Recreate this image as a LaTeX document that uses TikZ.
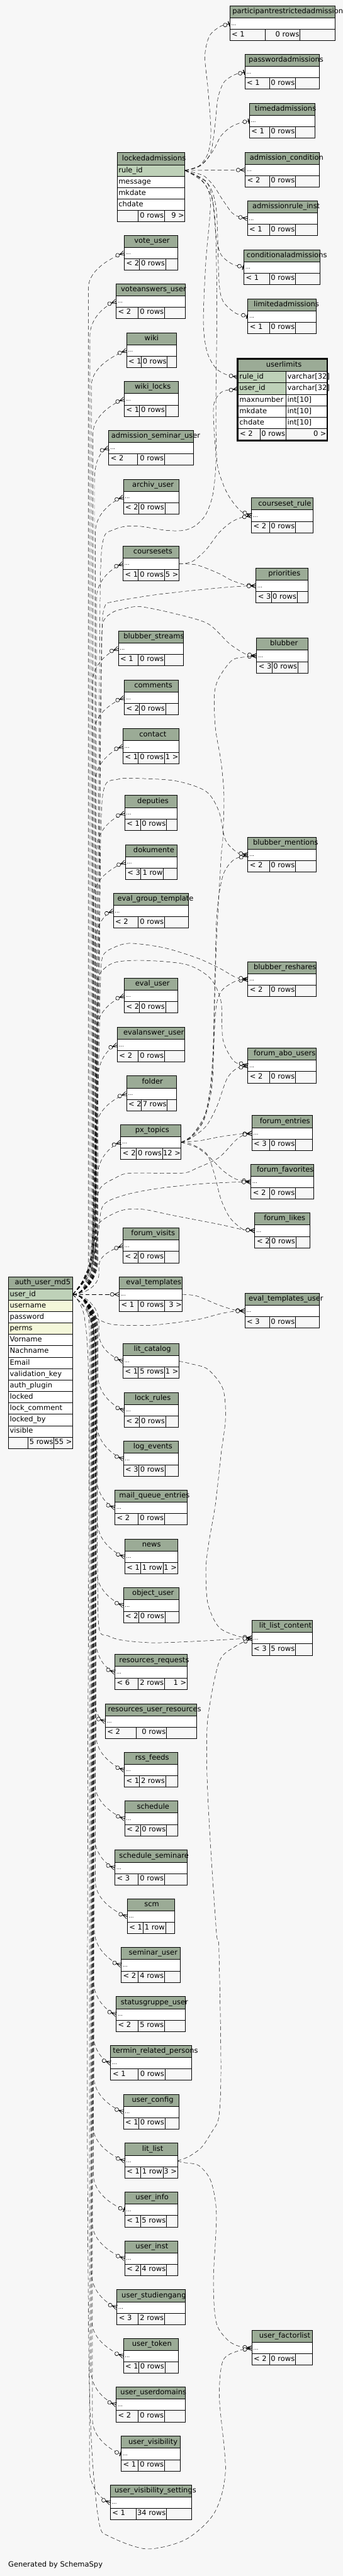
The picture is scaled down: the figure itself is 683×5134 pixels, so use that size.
\documentclass[tikz,border=0pt]{standalone}
\usepackage{fontspec}
\setmainfont{DejaVu Sans}
\usetikzlibrary{calc}
\definecolor{bgc}{HTML}{F7F7F7}
\definecolor{hdr}{HTML}{9BAB96}
\definecolor{keyc}{HTML}{BED1B8}
\definecolor{idxc}{HTML}{F4F7DA}
\tikzset{
 tline/.style={draw=black,line width=0.9pt},
 rowbox/.style={draw=black,line width=0.9pt,fill=white,inner sep=0pt,outer sep=0pt,minimum height=22.75pt},
 txt/.style={font=\fontsize{14.4}{17}\selectfont,inner sep=0pt,outer sep=0pt},
 dotsty/.style={font=\fontsize{10.5}{12}\selectfont,inner sep=0pt,outer sep=0pt},
 rel/.style={draw=black,line width=0.6pt,dash pattern=on 8pt off 5pt},
 crowm/.pic={\draw[solid,line width=0.9pt] (-10,0)--(0,0) (0,4.5)--(-10,0)--(0,-4.5); \draw[solid,line width=0.8pt,fill=bgc] (-14,0) circle[radius=3.8];},
 onem/.pic={\draw[solid,line width=0.8pt] (-5.5,0)--(0,0); \draw[solid,line width=1.8pt] (-1.5,-5)--(-1.5,5); \draw[solid,line width=0.8pt,fill=bgc] (-9.3,0) circle[radius=3.8];},
}
\def\tblgeo#1,#2,#3,#4,#5,#6\relax{\def\tL{#1}\def\tR{#2}\def\tT{#3}\def\tDa{#4}\def\tDb{#5}\def\tX{#6}}
\newcommand\tbl[6]{%
 \tblgeo#2\relax
 \pgfmathsetmacro\tW{\tR-\tL}%
 \path[tline,fill=hdr] (\tL,\tT) rectangle (\tR,\tT+24);
 \node[rowbox,minimum width=\tW pt,anchor=north west] (#1) at (\tL,\tT+24) {};
 \path[tline,fill=bgc] (\tL,\tT+46.75) rectangle (\tR,\tT+69.5);
 \draw[tline] (\tDa,\tT+46.75) -- (\tDa,\tT+69.5) (\tDb,\tT+46.75) -- (\tDb,\tT+69.5);
 \node[txt,anchor=base west] (#1-t) at (\tX,\tT+15.5) {#3};
 \node[dotsty,anchor=base west] (#1-d) at (\tL+3,\tT+38.5) {...};
 \node[txt,anchor=base west] (#1-c1) at (\tL+4,\tT+61.2) {#4};
 \node[txt,anchor=base east] (#1-c2) at (\tDb-1.5,\tT+61.2) {#5};
 \node[txt,anchor=base east] (#1-c3) at (\tR-1,\tT+61.2) {#6};
}
\newcommand\frow[6]{%
 \node[rowbox,fill=#5,minimum width=#3pt,anchor=north west] (#1) at (#2,#4) {};
 \node[txt,anchor=base west] (#1-t) at ({#2+3},{#4+15.2}) {#6};
}
% marker #1 at end point #3, oriented from point #2
\newcommand\mk[3]{%
 \path let \p1=#2, \p2=#3, \n1={atan2(\y2-\y1,\x2-\x1)} in (\p2) pic[rotate=\n1]{#1};
}
\newcommand\aul[4]{%
 \draw[rel] let \p1=(au-uid.east), \p2=(#1.west), \n1={min(70,0.42*abs(\y2-\y1))} in
 (\p1) .. controls ({\x1+22pt},{\y1}) and ({#2pt},{\y1-(#3)*0.4*\n1}) .. ({#2pt},{\y1-(#3)*\n1})
 -- ({#2pt},{\y2+(#3)*\n1}) .. controls ({#2pt},{\y2+(#3)*0.45*\n1}) and ({\x2-20pt},{\y2+(#3)*7pt}) .. (\p2);
 \path (#1.west) pic[rotate={-(#3)*19.29}]{#4};
}
\begin{document}
\begin{tikzpicture}[x=1pt,y=-1pt]
\fill[bgc] (0,0) rectangle (683,5134);
\useasboundingbox (0,0) rectangle (683,5134);
\clip (0,0) rectangle (683,5134);

% ---------- generic tables ----------
\tbl{pra}{457.4,667.3,11.7,528.4,597.6,463.0}{participantrestrictedadmissions}{< 1}{0 rows}{}
\tbl{pwa}{487.4,636.4,108.3,536.6,588.5,495.3}{passwordadmissions}{< 1}{0 rows}{}
\tbl{tia}{496.6,627.2,205.7,536.6,588.5,507.4}{timedadmissions}{< 1}{0 rows}{}
\tbl{adc}{488.3,635.5,303.3,536.6,588.5,497.4}{admission\_condition}{< 2}{0 rows}{}
\tbl{ari}{492.6,631.6,400.3,536.6,588.5,502.7}{admissionrule\_inst}{< 1}{0 rows}{}
\tbl{vu}{247.4,353.3,468.7,277.5,329.7,267.4}{vote\_user}{< 2}{0 rows}{}
\tbl{vau}{231.3,369.4,565.3,275.3,327.6,240.9}{voteanswers\_user}{< 2}{0 rows}{}
\tbl{wiki}{251.8,351.5,663.3,281.4,333.2,287.9}{wiki}{< 1}{0 rows}{}
\tbl{wl}{247.4,355.4,760.3,277.5,329.7,268.3}{wiki\_locks}{< 1}{0 rows}{}
\tbl{cda}{485.7,637.2,497.7,536.6,588.5,491.3}{conditionaladmissions}{< 1}{0 rows}{}
\tbl{lia}{493.5,629.4,595.3,536.6,588.5,505.3}{limitedadmissions}{< 1}{0 rows}{}
\tbl{asu}{216.5,385.5,857.3,273.5,327.6,221.7}{admission\_seminar\_user}{< 2}{0 rows}{}
\tbl{arc}{245.7,356.3,955.3,276.6,328.4,263.5}{archiv\_user}{< 2}{0 rows}{}
\tbl{csr}{500.5,623.3,992.3,536.6,588.5,514.4}{courseset\_rule}{< 2}{0 rows}{}
\tbl{cs}{244.8,356.3,1088.3,275.3,327.6,265.7}{coursesets}{< 1}{0 rows}{5 >}
\tbl{pri}{509.6,613.3,1132.3,540.1,591.9,534.4}{priorities}{< 3}{0 rows}{}
\tbl{bs}{235.6,365.0,1257.3,275.3,327.6,246.1}{blubber\_streams}{< 1}{0 rows}{}
\tbl{bl}{510.9,613.3,1271.7,541.4,593.3,537.9}{blubber}{< 3}{0 rows}{}
\tbl{com}{247.4,355.4,1355.3,277.5,329.7,267.4}{comments}{< 2}{0 rows}{}
\tbl{con}{244.8,356.3,1452.3,275.3,327.6,277.5}{contact}{< 1}{0 rows}{1 >}
\tbl{dep}{248.3,352.4,1585.3,279.6,331.5,273.5}{deputies}{< 1}{0 rows}{}
\tbl{dok}{249.6,352.4,1683.3,280.5,325.4,265.7}{dokumente}{< 3}{1 row}{}
\tbl{bm}{493.5,629.4,1668.3,536.6,588.5,504.0}{blubber\_mentions}{< 2}{0 rows}{}
\tbl{egt}{225.6,375.5,1780.3,275.3,327.6,233.9}{eval\_group\_template}{< 2}{0 rows}{}
\tbl{br}{493.5,629.4,1916.3,536.6,588.5,505.3}{blubber\_reshares}{< 2}{0 rows}{}
\tbl{eu}{247.4,353.3,1949.3,277.5,329.7,269.2}{eval\_user}{< 2}{0 rows}{}
\tbl{eau}{233.5,367.6,2047.3,275.3,327.6,245.7}{evalanswer\_user}{< 2}{0 rows}{}
\tbl{fau}{493.5,629.4,2088.7,536.6,588.5,505.3}{forum\_abo\_users}{< 2}{0 rows}{}
\tbl{fol}{251.8,351.5,2144.3,281.4,333.2,282.7}{folder}{< 2}{7 rows}{}
\tbl{px}{240.4,360.7,2241.3,271.4,323.6,269.2}{px\_topics}{< 2}{0 rows}{12 >}
\tbl{fe}{501.4,621.6,2223.3,536.6,588.5,517.5}{forum\_entries}{< 3}{0 rows}{}
\tbl{ff}{499.6,624.6,2320.3,536.6,588.5,511.4}{forum\_favorites}{< 2}{0 rows}{}
\tbl{fli}{507.4,617.6,2417.3,537.5,589.3,525.7}{forum\_likes}{< 2}{0 rows}{}
\tbl{fv}{244.8,356.3,2447.3,275.3,327.6,261.3}{forum\_visits}{< 2}{0 rows}{}
\tbl{et}{237.4,363.3,2544.3,275.3,327.6,251.3}{eval\_templates}{< 1}{0 rows}{3 >}
\tbl{etu}{487.4,636.4,2577.3,536.6,588.5,495.3}{eval\_templates\_user}{< 3}{0 rows}{}
\tbl{lc}{244.8,356.3,2677.3,275.3,327.6,266.6}{lit\_catalog}{< 1}{5 rows}{1 >}
\tbl{lr}{247.4,355.4,2775.3,277.5,329.7,268.3}{lock\_rules}{< 2}{0 rows}{}
\tbl{le}{245.7,355.4,2872.3,276.6,328.4,265.7}{log\_events}{< 3}{0 rows}{}
\tbl{mqe}{228.7,372.4,2969.3,275.3,327.6,237.4}{mail\_queue\_entries}{< 2}{0 rows}{}
\tbl{news}{248.3,353.3,3067.3,279.6,324.5,283.1}{news}{< 1}{1 row}{1 >}
\tbl{ou}{245.7,356.3,3164.3,276.6,328.4,263.5}{object\_user}{< 2}{0 rows}{}
\tbl{llc}{501.4,621.6,3229.3,536.6,588.5,516.2}{lit\_list\_content}{< 3}{5 rows}{}
\tbl{rr}{228.7,372.4,3297.3,275.3,327.6,237.4}{resources\_requests}{< 6}{2 rows}{1 >}
\tbl{rur}{209.5,391.1,3395.3,271.4,331.5,215.2}{resources\_user\_resources}{< 2}{0 rows}{}
\tbl{rss}{247.4,353.3,3492.3,277.5,329.7,269.2}{rss\_feeds}{< 1}{2 rows}{}
\tbl{sch}{248.3,353.3,3589.3,279.6,331.5,272.7}{schedule}{< 2}{0 rows}{}
\tbl{schs}{228.7,372.4,3687.3,275.3,327.6,237.4}{schedule\_seminare}{< 3}{0 rows}{}
\tbl{scm}{253.5,347.6,3784.3,284.4,329.7,287.5}{scm}{< 1}{1 row}{}
\tbl{su}{241.3,359.3,3881.3,275.3,327.6,256.6}{seminar\_user}{< 2}{4 rows}{}
\tbl{sgu}{231.3,369.4,3979.3,275.3,327.6,240.4}{statusgruppe\_user}{< 2}{5 rows}{}
\tbl{trp}{220.4,381.6,4076.3,275.3,328.4,224.8}{termin\_related\_persons}{< 1}{0 rows}{}
\tbl{uc}{245.7,356.3,4173.7,276.6,328.4,262.7}{user\_config}{< 1}{0 rows}{}
\tbl{ll}{248.3,353.3,4271.3,279.6,324.5,283.1}{lit\_list}{< 1}{1 row}{3 >}
\tbl{ui}{248.3,353.3,4368.7,279.6,331.5,270.1}{user\_info}{< 1}{5 rows}{}
\tbl{uin}{248.3,353.3,4465.7,279.6,331.5,270.1}{user\_inst}{< 2}{4 rows}{}
\tbl{usg}{232.6,368.5,4563.3,275.3,327.6,242.2}{user\_studiengang}{< 3}{2 rows}{}
\tbl{ut}{245.7,355.4,4660.3,276.6,328.4,263.1}{user\_token}{< 1}{0 rows}{}
\tbl{uf}{501.4,621.6,4644.3,536.6,588.5,516.2}{user\_factorlist}{< 2}{0 rows}{}
\tbl{uud}{231.3,369.4,4757.3,275.3,327.6,240.0}{user\_userdomains}{< 2}{0 rows}{}
\tbl{uv}{241.3,359.3,4855.3,275.3,327.6,255.7}{user\_visibility}{< 1}{0 rows}{}
\tbl{uvs}{219.5,381.6,4952.3,271.4,331.5,228.2}{user\_visibility\_settings}{< 1}{34 rows}{}

% ---------- lockedadmissions ----------
\path[tline,fill=hdr] (233.0,304.3) rectangle (368.1,328.3);
\node[txt,anchor=base west] (la-t) at (243.1,319.8) {lockedadmissions};
\frow{la-rule}{233.0}{135.1}{328.3}{keyc}{rule\_id}
\frow{la-msg}{233.0}{135.1}{351.05}{white}{message}
\frow{la-mk}{233.0}{135.1}{373.8}{white}{mkdate}
\frow{la-ch}{233.0}{135.1}{396.55}{white}{chdate}
\path[tline,fill=bgc] (233.0,419.3) rectangle (368.1,442.05);
\draw[tline] (275.3,419.3) -- (275.3,442.05) (327.6,419.3) -- (327.6,442.05);
\node[txt,anchor=base east] (la-c2) at (326.1,433.8) {0 rows};
\node[txt,anchor=base east] (la-c3) at (367.1,433.8) {9 >};

% ---------- userlimits ----------
\path[tline,fill=hdr] (473.8,716.3) rectangle (651,740.3);
\node[txt,anchor=base west] (ul-t) at (530.1,731.5) {userlimits};
\frow{ul-rule}{473.8}{95.5}{740.3}{keyc}{rule\_id}
\frow{ul-rule-ty}{569.3}{81.7}{740.3}{white}{varchar[32]}
\frow{ul-user}{473.8}{95.5}{763.05}{keyc}{user\_id}
\frow{ul-user-ty}{569.3}{81.7}{763.05}{white}{varchar[32]}
\frow{ul-max}{473.8}{95.5}{785.8}{white}{maxnumber}
\frow{ul-max-ty}{569.3}{81.7}{785.8}{white}{int[10]}
\frow{ul-mk}{473.8}{95.5}{808.55}{white}{mkdate}
\frow{ul-mk-ty}{569.3}{81.7}{808.55}{white}{int[10]}
\frow{ul-ch}{473.8}{95.5}{831.3}{white}{chdate}
\frow{ul-ch-ty}{569.3}{81.7}{831.3}{white}{int[10]}
\path[tline,fill=bgc] (473.8,854.05) rectangle (651,876.8);
\draw[tline] (517.5,854.05) -- (517.5,876.8) (569.3,854.05) -- (569.3,876.8);
\node[txt,anchor=base west] (ul-c1) at (477.8,868.8) {< 2};
\node[txt,anchor=base east] (ul-c2) at (568,868.8) {0 rows};
\node[txt,anchor=base east] (ul-c3) at (650,868.8) {0 >};
\draw[line width=2.5pt] (472.55,714.95) rectangle (652.15,878.05);

% ---------- auth_user_md5 ----------
\path[tline,fill=hdr] (16.6,2544.3) rectangle (144.6,2568.3);
\node[txt,anchor=base west] (au-t) at (29.6,2559.8) {auth\_user\_md5};
\frow{au-uid}{16.6}{128}{2568.3}{keyc}{user\_id}
\frow{au-un}{16.6}{128}{2591.05}{idxc}{username}
\frow{au-pw}{16.6}{128}{2613.8}{white}{password}
\frow{au-pe}{16.6}{128}{2636.55}{idxc}{perms}
\frow{au-vn}{16.6}{128}{2659.3}{white}{Vorname}
\frow{au-nn}{16.6}{128}{2682.05}{white}{Nachname}
\frow{au-em}{16.6}{128}{2704.8}{white}{Email}
\frow{au-vk}{16.6}{128}{2727.55}{white}{validation\_key}
\frow{au-ap}{16.6}{128}{2750.3}{white}{auth\_plugin}
\frow{au-lo}{16.6}{128}{2773.05}{white}{locked}
\frow{au-lc}{16.6}{128}{2795.8}{white}{lock\_comment}
\frow{au-lb}{16.6}{128}{2818.55}{white}{locked\_by}
\frow{au-vi}{16.6}{128}{2841.3}{white}{visible}
\path[tline,fill=bgc] (16.6,2864.05) rectangle (144.6,2886.8);
\draw[tline] (55.8,2864.05) -- (55.8,2886.8) (107.6,2864.05) -- (107.6,2886.8);
\node[txt,anchor=base east] (au-c2) at (106.1,2878.6) {5 rows};
\node[txt,anchor=base east] (au-c3) at (143.6,2878.6) {55 >};

% ---------- lockedadmissions edges ----------
\draw[rel] plot[smooth] coordinates {(la-rule.east) (395,332) (414,306) (420,262) (414,175) (408,112) (417,72) (438,53) (pra.west)};
\mk{onem}{(438,53)}{(pra.west)}
\draw[rel] plot[smooth] coordinates {(la-rule.east) (398,330) (419,306) (428,252) (434,196) (446,164) (467,149) (pwa.west)};
\mk{onem}{(467,149)}{(pwa.west)}
\draw[rel] plot[smooth] coordinates {(la-rule.east) (400,330) (424,301) (440,271) (460,253) (481,244) (tia.west)};
\mk{onem}{(481,244)}{(tia.west)}
\draw[rel] (la-rule.east) -- (adc.west);
\mk{crowm}{(la-rule.east)}{(adc.west)}
\draw[rel] plot[smooth] coordinates {(la-rule.east) (405,350) (426,371) (442,396) (462,424) (478,433) (ari.west)};
\mk{crowm}{(478,433)}{(ari.west)}
\draw[rel] plot[smooth] coordinates {(la-rule.east) (409,360) (423,396) (430,468) (440,507) (462,526) (cda.west)};
\mk{onem}{(462,526)}{(cda.west)}
\draw[rel] plot[smooth] coordinates {(la-rule.east) (414,366) (431,420) (436,558) (444,600) (469,624) (lia.west)};
\mk{onem}{(469,624)}{(lia.west)}
\draw[rel] plot[smooth] coordinates {(la-rule.east) (401,358) (419,400) (410,520) (405,640) (412,700) (430,734) (454,748) (ul-rule.west)};
\mk{crowm}{(454,748)}{(ul-rule.west)}
\draw[rel] plot[smooth] coordinates {(la-rule.east) (407,366) (427,422) (432,600) (430,800) (432,918) (444,964) (459,994) (480,1019) (csr.west)};
\mk{crowm}{(480,1019)}{(csr.west)}

% ---------- coursesets edges ----------
\draw[rel] plot[smooth] coordinates {(cs.east) (383,1119) (410,1096) (436,1062) (460,1041) (482,1031) (csr.west)};
\mk{crowm}{(482,1031)}{(csr.west)}
\draw[rel] plot[smooth] coordinates {(cs.east) (392,1126) (436,1143) (460,1156) (489,1166) (pri.west)};
\mk{crowm}{(489,1166)}{(pri.west)}

% ---------- px_topics edges ----------
\draw[rel] plot[smooth] coordinates {(px.east) (400,2273) (436,2266) (478,2260) (fe.west)};
\mk{crowm}{(478,2260)}{(fe.west)}
\draw[rel] plot[smooth] coordinates {(px.east) (392,2287) (418,2307) (444,2333) (470,2350) (ff.west)};
\mk{crowm}{(470,2350)}{(ff.west)}
\draw[rel] plot[smooth] coordinates {(px.east) (383,2281) (412,2300) (427,2340) (440,2390) (458,2427) (484,2450) (fli.west)};
\mk{crowm}{(484,2450)}{(fli.west)}
\draw[rel] plot[smooth] coordinates {(px.east) (378,2270) (410,2245) (432,2205) (452,2150) (472,2129) (fau.west)};
\mk{crowm}{(472,2129)}{(fau.west)}
\draw[rel] plot[smooth] coordinates {(px.east) (383,2262) (408,2222) (420,2170) (425,2100) (430,2010) (441,1975) (468,1956) (br.west)};
\mk{crowm}{(468,1956)}{(br.west)}
\draw[rel] plot[smooth] coordinates {(px.east) (380,2266) (405,2232) (417,2180) (424,2100) (428,1950) (432,1820) (444,1745) (465,1714) (bm.west)};
\mk{crowm}{(465,1714)}{(bm.west)}
\draw[rel] plot[smooth] coordinates {(px.east) (383,2265) (405,2235) (418,2190) (424,2142) (427,2012) (431,1879) (440,1714) (444,1667) (446,1584) (440,1517) (429,1451) (427,1384) (436,1351) (462,1316) (490,1309) (bl.west)};
\mk{crowm}{(490,1309)}{(bl.west)}

% ---------- other parent edges ----------
\draw[rel] plot[smooth] coordinates {(et.east) (392,2583) (436,2601) (468,2611) (etu.west)};
\mk{crowm}{(468,2611)}{(etu.west)}
\draw[rel] plot[smooth] coordinates {(lc.east) (380,2718) (414,2729) (444,2768) (449,2828) (440,2900) (429,2998) (415,3080) (410,3130) (414,3196) (436,3243) (474,3261) (llc.west)};
\mk{crowm}{(474,3261)}{(llc.west)}
\draw[rel] plot[smooth] coordinates {(ll.east) (376,4298) (401,4280) (421,4250) (436,4218) (440,4119) (436,3885) (431,3851) (418,3657) (412,3524) (414,3424) (436,3313) (466,3283) (llc.west)};
\mk{crowm}{(466,3283)}{(llc.west)}
\draw[rel] plot[smooth] coordinates {(ll.east) (366,4310) (396,4316) (420,4347) (431,4413) (425,4547) (431,4630) (455,4665) (479,4677) (uf.west)};
\mk{crowm}{(479,4677)}{(uf.west)}

% ---------- auth_user_md5 -> right column ----------
\draw[rel] plot[smooth] coordinates {(au-uid.east) (168,2545) (184,2460) (193,2000) (197,1500) (200,1150) (207,1071) (226,1056) (250,1049) (280,1049) (331,1057) (366,1057) (390,1047) (410,1025) (424,985) (430,920) (426,850) (426,805) (442,781) (ul-user.west)};
\mk{crowm}{(442,781)}{(ul-user.west)}
\draw[rel] plot[smooth] coordinates {(au-uid.east) (168,2545) (185,2460) (195,2000) (199,1500) (203,1260) (209,1208) (227,1199) (305,1186) (392,1176) (470,1169) (pri.west)};
\mk{crowm}{(470,1169)}{(pri.west)}
\draw[rel] plot[smooth] coordinates {(au-uid.east) (169,2545) (186,2460) (196,2000) (200,1500) (203,1270) (207,1236) (225,1220) (244,1214) (279,1209) (348,1223) (414,1243) (457,1283) (490,1304) (bl.west)};
\mk{crowm}{(490,1304)}{(bl.west)}
\draw[rel] plot[smooth] coordinates {(au-uid.east) (170,2545) (187,2460) (197,2000) (201,1650) (209,1566) (235,1553) (261,1551) (348,1556) (410,1577) (436,1617) (449,1674) (474,1700) (bm.west)};
\mk{crowm}{(474,1700)}{(bm.west)}
\draw[rel] plot[smooth] coordinates {(au-uid.east) (171,2545) (188,2460) (197,2100) (200,1960) (205,1905) (230,1887) (261,1880) (327,1889) (392,1909) (436,1929) (470,1948) (br.west)};
\mk{crowm}{(470,1948)}{(br.west)}
\draw[rel] plot[smooth] coordinates {(au-uid.east) (172,2545) (189,2460) (193,2100) (194,1990) (197,1944) (226,1919) (283,1914) (370,1922) (418,1949) (440,1995) (444,2072) (466,2115) (fau.west)};
\mk{crowm}{(466,2115)}{(fau.west)}
\draw[rel] plot[smooth] coordinates {(au-uid.east) (174,2535) (191,2450) (197,2373) (231,2347) (261,2338) (362,2338) (392,2328) (436,2307) (470,2272) (488,2261) (fe.west)};
\mk{crowm}{(488,2261)}{(fe.west)}
\draw[rel] plot[smooth] coordinates {(au-uid.east) (177,2535) (195,2460) (205,2403) (244,2383) (305,2370) (392,2360) (470,2356) (ff.west)};
\mk{crowm}{(470,2356)}{(ff.west)}
\draw[rel] plot[smooth] coordinates {(au-uid.east) (179,2538) (193,2470) (198,2437) (240,2413) (283,2410) (348,2423) (436,2440) (485,2451) (fli.west)};
\mk{crowm}{(485,2451)}{(fli.west)}
\draw[rel] plot[smooth] coordinates {(au-uid.east) (165,2600) (183,2621) (210,2636) (240,2641) (305,2641) (392,2630) (440,2618) (470,2613) (etu.west)};
\mk{crowm}{(470,2613)}{(etu.west)}
\draw[rel] plot[smooth] coordinates {(au-uid.east) (176,2620) (190,2700) (194,3100) (197,3243) (215,3260) (244,3269) (305,3274) (392,3271) (479,3266) (llc.west)};
\mk{crowm}{(479,3266)}{(llc.west)}
\draw[rel] plot[smooth] coordinates {(au-uid.east) (168,2625) (177,2800) (175,3500) (174,4200) (177,4700) (184,4900) (198,5031) (218,5055) (292,5080) (370,5061) (427,5008) (449,4925) (437,4780) (444,4705) (475,4685) (uf.west)};
\mk{crowm}{(475,4685)}{(uf.west)}

% ---------- auth_user_md5 -> left column ----------
\draw[rel] (au-uid.east) -- (et.west);
\mk{crowm}{(au-uid.east)}{(et.west)}
\aul{vu}{176}{-1}{crowm}
\aul{vau}{179}{-1}{crowm}
\aul{wiki}{182}{-1}{crowm}
\aul{wl}{185}{-1}{crowm}
\aul{asu}{188}{-1}{crowm}
\aul{arc}{190}{-1}{crowm}
\aul{cs}{192}{-1}{crowm}
\aul{bs}{184}{-1}{crowm}
\aul{com}{187}{-1}{crowm}
\aul{con}{190}{-1}{crowm}
\aul{dep}{193}{-1}{crowm}
\aul{dok}{186}{-1}{crowm}
\aul{egt}{189}{-1}{crowm}
\aul{eu}{192}{-1}{crowm}
\aul{eau}{195}{-1}{crowm}
\aul{fol}{191}{-1}{crowm}
\aul{px}{194}{-1}{crowm}
\aul{fv}{197}{-1}{crowm}
\aul{lc}{197}{1}{crowm}
\aul{lr}{195}{1}{crowm}
\aul{le}{193}{1}{crowm}
\aul{mqe}{191}{1}{crowm}
\aul{news}{194}{1}{crowm}
\aul{ou}{192}{1}{crowm}
\aul{rr}{190}{1}{crowm}
\aul{rur}{188}{1}{crowm}
\aul{rss}{191}{1}{crowm}
\aul{sch}{189}{1}{crowm}
\aul{schs}{187}{1}{crowm}
\aul{scm}{190}{1}{crowm}
\aul{su}{188}{1}{crowm}
\aul{sgu}{186}{1}{crowm}
\aul{trp}{184}{1}{crowm}
\aul{uc}{187}{1}{crowm}
\aul{ll}{185}{1}{crowm}
\aul{ui}{186}{1}{onem}
\aul{uin}{184}{1}{crowm}
\aul{usg}{182}{1}{crowm}
\aul{ut}{183}{1}{crowm}
\aul{uud}{181}{1}{crowm}
\aul{uv}{184}{1}{onem}
\aul{uvs}{178}{1}{crowm}

\node[txt,anchor=base west] (gen) at (16.5,5116) {Generated by SchemaSpy};
\end{tikzpicture}
\end{document}
